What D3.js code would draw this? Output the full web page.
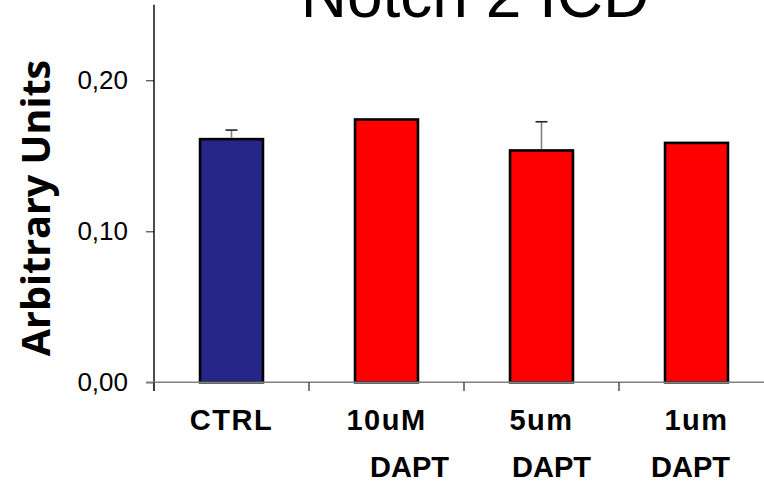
<!DOCTYPE html>
<html>
<head>
<meta charset="utf-8">
<script src="https://cdn.jsdelivr.net/npm/d3@7"></script>
<style>
  html, body { margin: 0; padding: 0; background: #fff; }
  svg { display: block; }
</style>
</head>
<body>
<svg id="chart" width="764" height="482"></svg>
<script>
// Notch 2 ICD expression, arbitrary units
const categories = [["CTRL"], ["10uM", "DAPT"], ["5um", "DAPT"], ["1um", "DAPT"]];
const values = [0.161, 0.174, 0.1535, 0.1585];
const errors = [0.006, 0, 0.019, 0];
const barColors = ["#262689", "#ff0000", "#ff0000", "#ff0000"];
const yTicks = [0, 0.10, 0.20];
const titleText = "Notch 2 ICD";
const yTitle = "Arbitrary Units";

const svg = d3.select("#chart");
const x0 = 154, step = 155;
const x = d3.scaleBand()
  .domain(d3.range(categories.length))
  .range([x0, x0 + step * categories.length])
  .paddingInner(0.594)
  .paddingOuter(0.297);
const y = d3.scaleLinear().domain([0, 0.25]).range([382.3, 4.7]);

// title (partly above the top edge)
svg.append("text")
  .attr("x", 475).attr("y", 17)
  .attr("text-anchor", "middle")
  .attr("font-family", "Liberation Sans, Arial, sans-serif")
  .attr("font-size", 64)
  .attr("fill", "#000")
  .text(titleText);

// y axis
const yAxis = svg.append("g").attr("transform", `translate(${x0},0)`)
  .call(d3.axisLeft(y).tickValues(yTicks).tickSize(8).tickPadding(18)
    .tickFormat(d => d3.format(".2f")(d).replace(".", ",")));
yAxis.select(".domain").remove();
yAxis.selectAll(".tick line").attr("stroke", "#555").attr("stroke-width", 1.3);
yAxis.selectAll(".tick text")
  .attr("font-family", "Liberation Sans, Arial, sans-serif")
  .attr("font-size", 26).attr("fill", "#000");
svg.append("line")
  .attr("x1", x0).attr("x2", x0)
  .attr("y1", y(0.25)).attr("y2", 391)
  .attr("stroke", "#000").attr("stroke-width", 1.4);

// bars
svg.append("g").selectAll("rect")
  .data(values)
  .join("rect")
  .attr("x", (d, i) => x(i))
  .attr("y", d => y(d))
  .attr("width", x.bandwidth())
  .attr("height", d => y(0) - y(d))
  .attr("fill", (d, i) => barColors[i])
  .attr("stroke", "#000")
  .attr("stroke-width", 2.6);

// upper error bars
const eb = svg.append("g");
values.forEach((v, i) => {
  if (!errors[i]) return;
  const cx = x(i) + x.bandwidth() / 2;
  eb.append("line")
    .attr("x1", cx).attr("x2", cx)
    .attr("y1", y(v) - 1.3).attr("y2", y(v + errors[i]))
    .attr("stroke", "#808080").attr("stroke-width", 1.6);
  eb.append("line")
    .attr("x1", cx - 6).attr("x2", cx + 6)
    .attr("y1", y(v + errors[i])).attr("y2", y(v + errors[i]))
    .attr("stroke", "#222").attr("stroke-width", 1.6);
});

// x axis line and category ticks
svg.append("line")
  .attr("x1", 146).attr("x2", 764)
  .attr("y1", y(0)).attr("y2", y(0))
  .attr("stroke", "#808080").attr("stroke-width", 1.5);
svg.append("g").selectAll("line")
  .data(d3.range(categories.length + 1))
  .join("line")
  .attr("x1", i => x0 + i * step).attr("x2", i => x0 + i * step)
  .attr("y1", y(0)).attr("y2", 391)
  .attr("stroke", "#333").attr("stroke-width", 1.3);

// category labels, two lines where wrapped
const lineTwoNudge = [0, 23, 10, -6];
const lab = svg.append("g")
  .attr("font-family", "Liberation Sans, Arial, sans-serif")
  .attr("font-weight", "bold")
  .attr("font-size", 29)
  .attr("text-anchor", "middle")
  .attr("fill", "#000");
categories.forEach((lines, i) => {
  const cx = x(i) + x.bandwidth() / 2;
  lines.forEach((t, j) => {
    lab.append("text")
      .attr("x", cx + (j ? lineTwoNudge[i] : 0))
      .attr("y", 430 + j * 47)
      .attr("letter-spacing", j ? 0 : 1.5)
      .text(t);
  });
});

// y axis title
svg.append("text")
  .attr("transform", "translate(50,208) rotate(-90)")
  .attr("text-anchor", "middle")
  .attr("font-family", "Open Sans, sans-serif")
  .attr("font-weight", "bold")
  .attr("font-size", 39.5)
  .attr("fill", "#000")
  .text(yTitle);
</script>
</body>
</html>
